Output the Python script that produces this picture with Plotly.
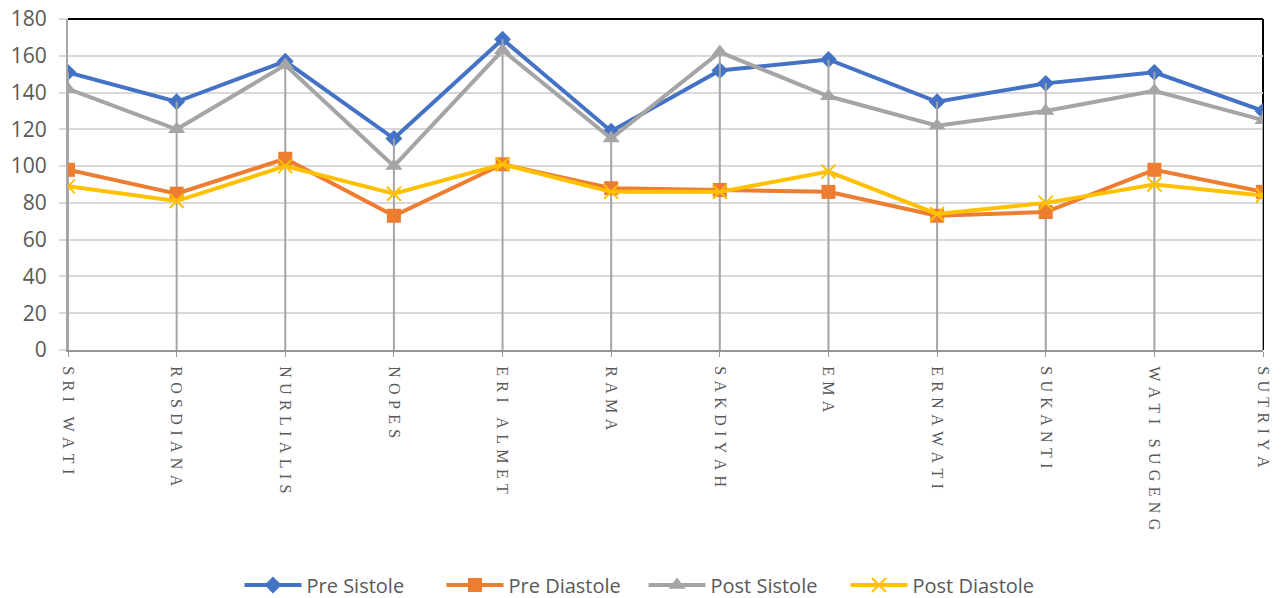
import plotly.graph_objects as go

categories = ["SRI WATI", "ROSDIANA", "NURLIALIS", "NOPES", "ERI ALMET", "RAMA",
              "SAKDIYAH", "EMA", "ERNAWATI", "SUKANTI", "WATI SUGENG", "SUTRIYA"]
pre_sistole = [151, 135, 157, 115, 169, 119, 152, 158, 135, 145, 151, 130]
pre_diastole = [98, 85, 104, 73, 101, 88, 87, 86, 73, 75, 98, 86]
post_sistole = [142, 120, 155, 100, 163, 115, 162, 138, 122, 130, 141, 125]
post_diastole = [89, 81, 100, 85, 101, 86, 86, 97, 74, 80, 90, 84]
y_ticks = [0, 20, 40, 60, 80, 100, 120, 140, 160, 180]

tick_text = ["\u2004".join(list(c)) for c in categories]
xs = list(range(len(categories)))

fig = go.Figure()

maxes = [max(a, b, c, d) for a, b, c, d in zip(pre_sistole, pre_diastole, post_sistole, post_diastole)]
dx, dy = [], []
for i, m in zip(xs, maxes):
    dx += [i, i, None]
    dy += [0, m, None]

fig.add_trace(go.Scatter(x=xs, y=pre_sistole, name="Pre Sistole", mode="lines+markers",
                         line=dict(color="#4472C4", width=4),
                         marker=dict(symbol="diamond", size=13, color="#4472C4")))
fig.add_trace(go.Scatter(x=dx, y=dy, mode="lines", showlegend=False, hoverinfo="skip",
                         line=dict(color="#A5A5A5", width=2)))
fig.add_trace(go.Scatter(x=xs, y=pre_diastole, name="Pre Diastole", mode="lines+markers",
                         line=dict(color="#ED7D31", width=4),
                         marker=dict(symbol="square", size=14, color="#ED7D31")))
fig.add_trace(go.Scatter(x=xs, y=post_sistole, name="Post Sistole", mode="lines+markers",
                         line=dict(color="#A5A5A5", width=4),
                         marker=dict(symbol="triangle-up", size=15, color="#A5A5A5")))
fig.add_trace(go.Scatter(x=xs, y=post_diastole, name="Post Diastole", mode="lines+markers",
                         line=dict(color="#FFC000", width=4),
                         marker=dict(symbol="x-thin", size=14, color="#FFC000",
                                     line=dict(color="#FFC000", width=2))))

fig.update_layout(
    width=1285, height=598,
    margin=dict(l=68, r=22, t=19, b=248, autoexpand=False),
    paper_bgcolor="white", plot_bgcolor="white",
    showlegend=True,
    legend=dict(orientation="h", x=0.4816, xanchor="center", y=-0.71, yanchor="middle",
                font=dict(family="Open Sans", size=20, color="#595959"),
                itemwidth=57, entrywidth=130, tracegroupgap=0),
    xaxis=dict(range=[0, 11], tickmode="array", tickvals=xs, ticktext=tick_text,
               tickangle=90, showgrid=False, zeroline=False, automargin=False,
               showline=True, linecolor="#969696", linewidth=2,
               ticks="outside", ticklen=5, tickcolor="#969696", tickwidth=1,
               ticklabelstandoff=6, ticklabeloverflow="allow",
               tickfont=dict(family="Liberation Serif", size=16, color="#595959")),
    yaxis=dict(range=[0, 180], tickmode="array", tickvals=y_ticks, automargin=False,
               showgrid=True, gridcolor="#D9D9D9", gridwidth=2, zeroline=False,
               showline=True, linecolor="#A5A5A5", linewidth=2,
               ticks="outside", ticklen=7, tickcolor="#D9D9D9", tickwidth=2,
               ticklabelstandoff=8, ticklabeloverflow="allow",
               tickfont=dict(family="Open Sans", size=21, color="#595959")),
    shapes=[
        dict(type="line", xref="paper", yref="paper", x0=0, x1=1, y0=1, y1=1,
             line=dict(color="black", width=2), layer="between"),
        dict(type="line", xref="paper", yref="paper", x0=1, x1=1, y0=0, y1=1,
             line=dict(color="black", width=2), layer="between"),
    ],
)

fig.write_html("out.html", config={"displayModeBar": False},
               post_script="document.body.style.margin='0';")
